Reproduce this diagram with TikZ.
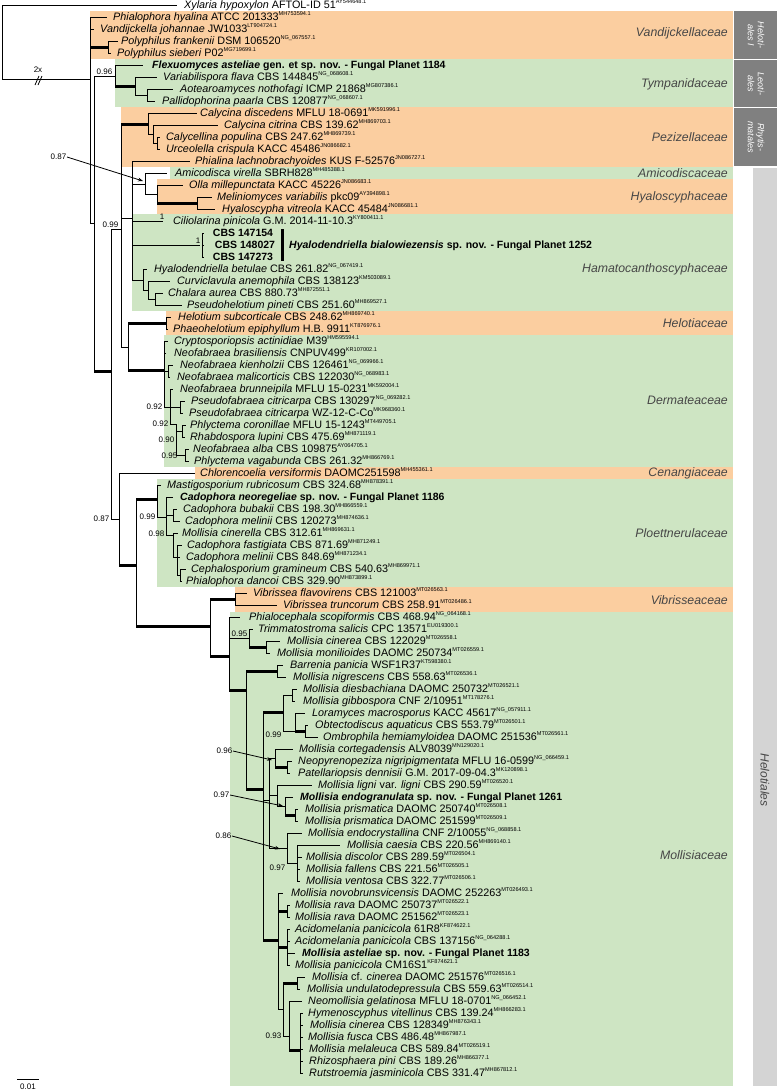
\documentclass[tikz,border=0pt]{standalone}
\usepackage{fontspec}
\setmainfont{Liberation Sans}
\usetikzlibrary{arrows.meta}

\definecolor{famorange}{RGB}{251,206,160}
\definecolor{famgreen}{RGB}{206,229,195}
\definecolor{famtext}{RGB}{70,70,70}
\definecolor{orddark}{RGB}{128,128,128}
\definecolor{ordlight}{RGB}{212,212,212}

\newcommand{\accn}[1]{\raisebox{0.85ex}{\fontsize{5.6}{6}\selectfont #1}}

\begin{document}
\begin{tikzpicture}[x=1pt, y=-1pt,
  tax/.style={anchor=base west, inner sep=0pt, yshift=-3.8pt, font=\fontsize{10.8}{12}\selectfont},
  taxb/.style={tax, font=\fontsize{10.5}{12}\selectfont\bfseries},
  br/.style={line width=0.8pt},
  thk/.style={line width=3pt},
  supp/.style={anchor=south east, inner sep=0.5pt, font=\fontsize{8}{9}\selectfont},
  fam/.style={anchor=east, inner sep=0pt, font=\fontsize{12.3}{14}\selectfont\itshape, text=famtext}]
  \useasboundingbox (0,0) rectangle (777,1090);

  % === FAMILY BOXES ===
  \fill[famorange] (90,11) rectangle (733,59);
  \fill[famgreen] (115,59) rectangle (733,107);
  \fill[famorange] (121,107) rectangle (733,167);
  \fill[famgreen] (170,167) rectangle (733,179);
  \fill[famorange] (157,179) rectangle (733,214);
  \fill[famgreen] (132,214) rectangle (733,311);
  \fill[famorange] (166,311) rectangle (733,335);
  \fill[famgreen] (164,335) rectangle (733,467);
  \fill[famorange] (195,467) rectangle (733,479);
  \fill[famgreen] (157,479) rectangle (733,587);
  \fill[famorange] (235,587) rectangle (733,612);
  \fill[famgreen] (230,612) rectangle (733,1086);

  % Orders
  \fill[orddark] (734,11) rectangle (777,59);
  \fill[orddark] (734,60) rectangle (777,107);
  \fill[orddark] (734,108) rectangle (777,166);
  \fill[ordlight] (753,168) rectangle (777,1086);
  \node[rotate=-90, align=center, text=white, font=\fontsize{9}{10}\selectfont\itshape] (oHel) at (756,35) {Heloti-\\ales I};
  \node[rotate=-90, align=center, text=white, font=\fontsize{9}{10}\selectfont\itshape] (oLeo) at (756,84) {Leoti-\\ales};
  \node[rotate=-90, align=center, text=white, font=\fontsize{9}{10}\selectfont\itshape] (oRhy) at (756,137) {Rhytis-\\matales};
  \node[rotate=-90, text=famtext, font=\fontsize{12}{14}\selectfont\itshape] (oHelo) at (765,780) {Helotiales};

  % Family names
  \node[fam] (fVan) at (728,33) {Vandijckellaceae};
  \node[fam] (fTym) at (728,84) {Tympanidaceae};
  \node[fam] (fPez) at (728,137) {Pezizellaceae};
  \node[fam] (fAmi) at (728,173) {Amicodiscaceae};
  \node[fam] (fHya) at (728,197) {Hyaloscyphaceae};
  \node[fam] (fHam) at (728,269) {Hamatocanthoscyphaceae};
  \node[fam] (fHet) at (728,323) {Helotiaceae};
  \node[fam] (fDer) at (728,400) {Dermateaceae};
  \node[fam] (fCen) at (728,473) {Cenangiaceae};
  \node[fam] (fPlo) at (728,533) {Ploettnerulaceae};
  \node[fam] (fVib) at (728,600) {Vibrisseaceae};
  \node[fam] (fMol) at (728,855) {Mollisiaceae};

  % === TREE ===
  % root and ingroup
  \draw[br] (2,5) -- (2,79);
  \draw[br] (2,5) -- (177,5);
  \draw[br] (2,79) -- (90,79);
  \node[font=\fontsize{8}{9}\selectfont] (brk) at (38,70) {2x};
  \draw[br] (35,85) -- (39,76);
  \draw[br] (38,85) -- (42,76);

  % Vandijckellaceae
  \draw[br] (90,17) -- (90,223);
  \draw[br] (90,17) -- (107,17);
  \draw[br] (90,29) -- (94,29);
  \draw[thk] (90,47) -- (108,47);
  \draw[br] (108,41) -- (108,53);
  \draw[br] (108,41) -- (118,41);
  \draw[br] (108,53) -- (111,53);
  \draw[br] (90,223) -- (94,223);

  % Tympanidaceae
  \draw[br] (94,76) -- (94,371);
  \draw[br] (94,76) -- (115,76);
  \node[supp] at (113,75) {0.96};
  \draw[br] (115,65) -- (115,86);
  \draw[br] (115,65) -- (143,65);
  \draw[thk] (115,86) -- (135,86);
  \draw[br] (135,77) -- (135,95);
  \draw[br] (135,77) -- (157,77);
  \draw[br] (135,95) -- (147,95);
  \draw[br] (147,89) -- (147,101);
  \draw[br] (147,89) -- (173,89);
  \draw[br] (147,101) -- (155,101);

  % backbone
  \draw[thk] (94,371) -- (111,371);
  \draw[br] (111,229) -- (111,519);
  \draw[br] (111,229) -- (121,229);
  \node[supp] at (119,228) {0.99};
  \draw[br] (121,124) -- (121,347);

  % Pezizellaceae
  \draw[thk] (121,124) -- (148,124);
  \draw[br] (148,113) -- (148,134);
  \draw[br] (148,113) -- (197,113);
  \draw[br] (148,134) -- (153,134);
  \draw[br] (153,125) -- (153,143);
  \draw[br] (153,125) -- (218,125);
  \draw[br] (153,143) -- (157,143);
  \draw[br] (157,137) -- (157,149);
  \draw[br] (157,137) -- (160,137);
  \draw[br] (157,149) -- (160,149);

  % Phialina, Amicodisca, Hyaloscyphaceae, Hamatocanthoscyphaceae
  \draw[br] (121,218) -- (132,218);
  \draw[br] (132,161) -- (132,280);
  \draw[br] (132,161) -- (190,161);
  \draw[br] (132,184) -- (145,184);
  \draw[br] (145,173) -- (145,194);
  \draw[br] (145,173) -- (167,173);
  \draw[br] (145,194) -- (157,194);
  \draw[br] (157,185) -- (157,203);
  \draw[br] (157,185) -- (183,185);
  \draw[thk] (157,203) -- (197,203);
  \draw[br] (197,197) -- (197,209);
  \draw[br] (197,197) -- (212,197);
  \draw[br] (197,209) -- (215,209);
  \node[font=\fontsize{8}{9}\selectfont, anchor=east, inner sep=0.5pt] (s087a) at (67,157) {0.87};
  \draw[-{Stealth[length=5pt]}, line width=0.8pt] (s087a.east) -- (143,181);
  \draw[br] (132,221) -- (163,221);
  \node[supp] at (165,220) {1};
  \draw[br] (132,245) -- (200,245);
  \node[supp] at (201,244) {1};
  \draw[line width=0.4pt] (202,233) -- (202,257);
  \foreach \yy in {233,245,257} \draw[line width=0.4pt] (202,\yy) -- (204,\yy);
  \draw[line width=3pt] (282,229) -- (282,261);
  \draw[br] (132,280) -- (143,280);
  \draw[br] (143,269) -- (143,290);
  \draw[br] (143,269) -- (147,269);
  \draw[br] (143,290) -- (148,290);
  \draw[br] (148,281) -- (148,299);
  \draw[br] (148,281) -- (170,281);
  \draw[br] (148,299) -- (155,299);
  \draw[br] (155,293) -- (155,305);
  \draw[br] (155,293) -- (163,293);
  \draw[br] (155,305) -- (182,305);

  % Helotiaceae, Dermateaceae
  \draw[br] (121,347) -- (128,347);
  \draw[br] (128,323) -- (128,370);
  \draw[thk] (128,323) -- (166,323);
  \draw[br] (166,317) -- (166,329);
  \draw[br] (166,317) -- (171,317);
  \draw[br] (166,329) -- (168,329);
  \draw[thk] (128,370) -- (164,370);
  \draw[br] (164,341) -- (164,407);
  \draw[br] (164,341) -- (168,341);
  \draw[br] (164,353) -- (166,353);
  \draw[br] (164,371) -- (168,371);
  \draw[br] (168,365) -- (168,377);
  \draw[br] (168,365) -- (173,365);
  \draw[br] (168,377) -- (170,377);
  \draw[br] (164,407) -- (170,407);
  \node[supp, anchor=east] at (163,407) {0.92};
  \draw[br] (170,389) -- (170,424);
  \draw[br] (170,389) -- (173,389);
  \draw[br] (170,407) -- (180,407);
  \draw[br] (180,401) -- (180,413);
  \draw[br] (180,401) -- (185,401);
  \draw[br] (180,413) -- (183,413);
  \draw[br] (170,424) -- (176,424);
  \node[supp, anchor=east] at (169,424) {0.92};
  \draw[br] (176,424) -- (176,455);
  \draw[br] (176,431) -- (182,431);
  \draw[br] (182,425) -- (182,437);
  \draw[br] (182,425) -- (186,425);
  \draw[br] (182,437) -- (185,437);
  \node[supp, anchor=east] at (175,440) {0.90};
  \draw[br] (176,455) -- (185,455);
  \node[supp, anchor=east] at (178,456) {0.95};
  \draw[br] (185,449) -- (185,461);
  \draw[br] (185,449) -- (189,449);
  \draw[br] (185,461) -- (189,461);

  % Cenangiaceae, Ploettnerulaceae
  \draw[br] (111,519) -- (119,519);
  \node[supp, anchor=east] at (110,519) {0.87};
  \draw[br] (119,473) -- (119,565);
  \draw[br] (119,473) -- (195,473);
  \draw[thk] (119,565) -- (136,565);
  \draw[br] (136,499) -- (136,626);
  \draw[thk] (136,499) -- (157,499);
  \draw[br] (157,485) -- (157,517);
  \draw[br] (157,485) -- (161,485);
  \draw[br] (157,517) -- (166,517);
  \node[supp, anchor=east] at (156,517) {0.99};
  \draw[br] (166,497) -- (166,535);
  \draw[br] (166,497) -- (173,497);
  \draw[br] (166,515) -- (173,515);
  \draw[br] (173,509) -- (173,521);
  \draw[br] (173,509) -- (177,509);
  \draw[br] (173,521) -- (180,521);
  \draw[br] (166,535) -- (173,535);
  \node[supp, anchor=east] at (165,534) {0.98};
  \draw[br] (173,533) -- (173,557);
  \draw[br] (173,533) -- (178,533);
  \draw[br] (173,557) -- (177,557);
  \draw[br] (177,545) -- (177,575);
  \draw[br] (177,545) -- (182,545);
  \draw[br] (177,557) -- (180,557);
  \draw[br] (177,575) -- (180,575);
  \draw[br] (180,569) -- (180,581);
  \draw[br] (180,569) -- (186,569);
  \draw[br] (180,581) -- (182,581);

  % Vibrisseaceae, Mollisiaceae
  \draw[thk] (136,626) -- (210,626);
  \draw[br] (210,599) -- (210,656);
  \draw[thk] (210,599) -- (235,599);
  \draw[br] (235,593) -- (235,605);
  \draw[br] (235,593) -- (247,593);
  \draw[br] (235,605) -- (277,605);
  \draw[thk] (210,656) -- (229,656);
  \draw[br] (229,617) -- (229,690);
  \draw[br] (229,617) -- (240,617);
  \draw[br] (229,638) -- (249,638);
  \node[supp] at (248,637) {0.95};
  \draw[br] (249,629) -- (249,647);
  \draw[br] (249,629) -- (253,629);
  \draw[thk] (249,647) -- (266,647);
  \draw[br] (266,641) -- (266,653);
  \draw[br] (266,641) -- (280,641);
  \draw[br] (266,653) -- (270,653);
  \draw[thk] (229,690) -- (246,690);
  \draw[br] (246,671) -- (246,789);
  \draw[thk] (246,671) -- (277,671);
  \draw[br] (277,665) -- (277,677);
  \draw[br] (277,665) -- (283,665);
  \draw[br] (277,677) -- (286,677);
  \draw[thk] (246,789) -- (263,789);
  \draw[br] (263,712) -- (263,940);
  \draw[thk] (263,712) -- (283,712);
  \draw[br] (283,695) -- (283,731);
  \draw[br] (283,695) -- (292,695);
  \draw[br] (292,689) -- (292,701);
  \draw[br] (292,689) -- (297,689);
  \draw[br] (292,701) -- (295,701);
  \draw[br] (283,731) -- (295,731);
  \node[supp, anchor=east] at (282,735) {0.99};
  \draw[br] (295,713) -- (295,731);
  \draw[br] (295,713) -- (305,713);
  \draw[thk] (295,731) -- (305,731);
  \draw[br] (305,725) -- (305,737);
  \draw[br] (305,725) -- (308,725);
  \draw[br] (305,737) -- (318,737);
  \draw[br] (263,800) -- (269,800);
  \draw[br] (269,758) -- (269,848);
  \draw[br] (269,758) -- (275,758);
  \draw[br] (275,749) -- (275,767);
  \draw[br] (275,749) -- (293,749);
  \draw[thk] (275,767) -- (287,767);
  \draw[br] (287,761) -- (287,773);
  \draw[br] (287,761) -- (292,761);
  \draw[br] (287,773) -- (290,773);
  \node[font=\fontsize{8}{9}\selectfont, anchor=east, inner sep=0.5pt] (s096) at (233,751) {0.96};
  \draw[-{Stealth[length=5pt]}, line width=0.8pt] (s096.east) -- (272,760);
  \draw[br] (269,795) -- (277,795);
  \draw[br] (277,785) -- (277,806);
  \draw[br] (277,785) -- (312,785);
  \draw[br] (277,806) -- (285,806);
  \draw[br] (285,797) -- (285,815);
  \draw[br] (285,797) -- (293,797);
  \draw[thk] (285,815) -- (295,815);
  \draw[br] (295,809) -- (295,821);
  \draw[br] (295,809) -- (298,809);
  \draw[br] (295,821) -- (298,821);
  \node[font=\fontsize{8}{9}\selectfont, anchor=east, inner sep=0.5pt] (s097a) at (230,795) {0.97};
  \draw[-{Stealth[length=5pt]}, line width=0.8pt] (s097a.east) -- (283,806);
  \draw[br] (269,848) -- (287,848);
  \node[font=\fontsize{8}{9}\selectfont, anchor=east, inner sep=0.5pt] (s086) at (232,836) {0.86};
  \draw[-{Stealth[length=5pt]}, line width=0.8pt] (s086.east) -- (280,849);
  \draw[br] (287,833) -- (287,863);
  \draw[br] (287,833) -- (302,833);
  \draw[br] (287,863) -- (297,863);
  \node[supp, anchor=east] at (286,868) {0.97};
  \draw[br] (297,845) -- (297,881);
  \draw[br] (297,845) -- (340,845);
  \draw[br] (297,857) -- (302,857);
  \draw[br] (297,869) -- (300,869);
  \draw[br] (297,881) -- (300,881);
  \draw[thk] (263,940) -- (278,940);
  \draw[br] (278,893) -- (278,1009);
  \draw[br] (278,893) -- (283,893);
  \draw[thk] (278,911) -- (287,911);
  \draw[br] (287,905) -- (287,917);
  \draw[br] (287,905) -- (290,905);
  \draw[br] (287,917) -- (290,917);
  \draw[thk] (278,947) -- (287,947);
  \draw[br] (287,929) -- (287,965);
  \foreach \yy in {929,941,965} \draw[br] (287,\yy) -- (290,\yy);
  \draw[br] (287,953) -- (295,953);
  \draw[br] (278,1009) -- (283,1009);
  \draw[br] (283,983) -- (283,1036);
  \draw[thk] (283,983) -- (297,983);
  \draw[br] (297,977) -- (297,989);
  \draw[br] (297,977) -- (305,977);
  \draw[br] (297,989) -- (300,989);
  \draw[br] (283,1036) -- (289,1036);
  \node[supp, anchor=east] at (282,1036) {0.93};
  \draw[br] (289,1001) -- (289,1050);
  \draw[br] (289,1001) -- (302,1001);
  \draw[thk] (289,1050) -- (300,1050);
  \draw[br] (300,1013) -- (300,1073);
  \foreach \yy in {1013,1025,1037,1049,1061,1073} \draw[br] (300,\yy) -- (303,\yy);

  % scale bar
  \draw[br] (17,1079) -- (39,1079);
  \node[font=\fontsize{8}{9}\selectfont] (scl) at (28,1087) {0.01};

  % === TAXA ===
  \node[tax] (t01) at (184,5) {\textit{Xylaria hypoxylon} AFTOL-ID 51\accn{AY544648.1}};
  \node[tax] (t02) at (113,17) {\textit{Phialophora hyalina} ATCC 201333\accn{MH753594.1}};
  \node[tax] (t03) at (100,29) {\textit{Vandijckella johannae} JW1033\accn{LT904724.1}};
  \node[tax] (t04) at (121,41) {\textit{Polyphilus frankenii} DSM 106520\accn{NG\_067557.1}};
  \node[tax] (t05) at (117,53) {\textit{Polyphilus sieberi} P02\accn{MG719699.1}};
  \node[taxb] (t06) at (152,65) {\textit{Flexuomyces asteliae} gen. et sp. nov. - Fungal Planet 1184};
  \node[tax] (t07) at (163,77) {\textit{Variabilispora flava} CBS 144845\accn{NG\_068608.1}};
  \node[tax] (t08) at (180,89) {\textit{Aotearoamyces nothofagi} ICMP 21868\accn{MG807386.1}};
  \node[tax] (t09) at (162,101) {\textit{Pallidophorina paarla} CBS 120877\accn{NG\_068607.1}};
  \node[tax] (t10) at (200,113) {\textit{Calycina discedens} MFLU 18-0691\accn{MK591996.1}};
  \node[tax] (t11) at (224,125) {\textit{Calycina citrina} CBS 139.62\accn{MH869703.1}};
  \node[tax] (t12) at (166,137) {\textit{Calycellina populina} CBS 247.62\accn{MH869739.1}};
  \node[tax] (t13) at (166,149) {\textit{Urceolella crispula} KACC 45486\accn{JN086682.1}};
  \node[tax] (t14) at (195,161) {\textit{Phialina lachnobrachyoides} KUS F-52576\accn{JN086727.1}};
  \node[tax] (t15) at (175,173) {\textit{Amicodisca virella} SBRH828\accn{MH485388.1}};
  \node[tax] (t16) at (189,185) {\textit{Olla millepunctata} KACC 45226\accn{JN086683.1}};
  \node[tax] (t17) at (217,197) {\textit{Meliniomyces variabilis} pkc09\accn{AY394898.1}};
  \node[tax] (t18) at (222,209) {\textit{Hyaloscypha vitreola} KACC 45484\accn{JN086681.1}};
  \node[tax] (t19) at (173,221) {\textit{Ciliolarina pinicola} G.M. 2014-11-10.3\accn{KY800411.1}};
  \node[taxb, anchor=base] (t20) at (243,233) {CBS 147154};
  \node[taxb, anchor=base] (t21) at (245,245) {CBS 148027};
  \node[taxb, anchor=base] (t22) at (243,257) {CBS 147273};
  \node[taxb] (hbia) at (289,245) {\textit{Hyalodendriella bialowiezensis} sp. nov. - Fungal Planet 1252};
  \node[tax] (t23) at (154,269) {\textit{Hyalodendriella betulae} CBS 261.82\accn{NG\_067419.1}};
  \node[tax] (t24) at (177,281) {\textit{Curviclavula anemophila} CBS 138123\accn{KM503089.1}};
  \node[tax] (t25) at (168,293) {\textit{Chalara aurea} CBS 880.73\accn{MH872551.1}};
  \node[tax] (t26) at (187,305) {\textit{Pseudohelotium pineti} CBS 251.60\accn{MH869527.1}};
  \node[tax] (t27) at (178,317) {\textit{Helotium subcorticale} CBS 248.62\accn{MH869740.1}};
  \node[tax] (t28) at (173,329) {\textit{Phaeohelotium epiphyllum} H.B. 9911\accn{KT876976.1}};
  \node[tax] (t29) at (174,341) {\textit{Cryptosporiopsis actinidiae} M39\accn{HM595594.1}};
  \node[tax] (t30) at (174,353) {\textit{Neofabraea brasiliensis} CNPUV499\accn{KR107002.1}};
  \node[tax] (t31) at (180,365) {\textit{Neofabraea kienholzii} CBS 126461\accn{NG\_069966.1}};
  \node[tax] (t32) at (177,377) {\textit{Neofabraea malicorticis} CBS 122030\accn{NG\_068983.1}};
  \node[tax] (t33) at (180,389) {\textit{Neofabraea brunneipila} MFLU 15-0231\accn{MK592004.1}};
  \node[tax] (t34) at (191,401) {\textit{Pseudofabraea citricarpa} CBS 130297\accn{NG\_069282.1}};
  \node[tax] (t35) at (189,413) {\textit{Pseudofabraea citricarpa} WZ-12-C-Co\accn{MK968360.1}};
  \node[tax] (t36) at (190,425) {\textit{Phlyctema coronillae} MFLU 15-1243\accn{MT449705.1}};
  \node[tax] (t37) at (190,437) {\textit{Rhabdospora lupini} CBS 475.69\accn{MH871119.1}};
  \node[tax] (t38) at (193,449) {\textit{Neofabraea alba} CBS 109875\accn{AY064705.1}};
  \node[tax] (t39) at (194,461) {\textit{Phlyctema vagabunda} CBS 261.32\accn{MH866769.1}};
  \node[tax] (t40) at (200,473) {\textit{Chlorencoelia versiformis} DAOMC251598\accn{MH455361.1}};
  \node[tax] (t41) at (167,485) {\textit{Mastigosporium rubricosum} CBS 324.68\accn{MH878391.1}};
  \node[taxb] (t42) at (180,497) {\textit{Cadophora neoregeliae} sp. nov. - Fungal Planet 1186};
  \node[tax] (t43) at (183,509) {\textit{Cadophora bubakii} CBS 198.30\accn{MH866559.1}};
  \node[tax] (t44) at (185,521) {\textit{Cadophora melinii} CBS 120273\accn{MH874636.1}};
  \node[tax] (t45) at (182,533) {\textit{Mollisia cinerella} CBS 312.61\accn{MH869631.1}};
  \node[tax] (t46) at (187,545) {\textit{Cadophora fastigiata} CBS 871.69\accn{MH871249.1}};
  \node[tax] (t47) at (186,557) {\textit{Cadophora melinii} CBS 848.69\accn{MH871234.1}};
  \node[tax] (t48) at (191,569) {\textit{Cephalosporium gramineum} CBS 540.63\accn{MH869971.1}};
  \node[tax] (t49) at (186,581) {\textit{Phialophora dancoi} CBS 329.90\accn{MH873899.1}};
  \node[tax] (t50) at (253,593) {\textit{Vibrissea flavovirens} CBS 121003\accn{MT026563.1}};
  \node[tax] (t51) at (283,605) {\textit{Vibrissea truncorum} CBS 258.91\accn{MT026486.1}};
  \node[tax] (t52) at (249,617) {\textit{Phialocephala scopiformis} CBS 468.94\accn{NG\_064168.1}};
  \node[tax] (t53) at (258,629) {\textit{Trimmatostroma salicis} CPC 13571\accn{EU019300.1}};
  \node[tax] (t54) at (287,641) {\textit{Mollisia cinerea} CBS 122029\accn{MT026558.1}};
  \node[tax] (t55) at (277,653) {\textit{Mollisia monilioides} DAOMC 250734\accn{MT026559.1}};
  \node[tax] (t56) at (290,665) {\textit{Barrenia panicia} WSF1R37\accn{KT598380.1}};
  \node[tax] (t57) at (293,677) {\textit{Mollisia nigrescens} CBS 558.63\accn{MT026536.1}};
  \node[tax] (t58) at (303,689) {\textit{Mollisia diesbachiana} DAOMC 250732\accn{MT026521.1}};
  \node[tax] (t59) at (303,701) {\textit{Mollisia gibbospora} CNF 2/10951\accn{MT178276.1}};
  \node[tax] (t60) at (312,713) {\textit{Loramyces macrosporus} KACC 45617\accn{NG\_057911.1}};
  \node[tax] (t61) at (315,725) {\textit{Obtectodiscus aquaticus} CBS 553.79\accn{MT026501.1}};
  \node[tax] (t62) at (323,737) {\textit{Ombrophila hemiamyloidea} DAOMC 251536\accn{MT026561.1}};
  \node[tax] (t63) at (299,749) {\textit{Mollisia cortegadensis} ALV8039\accn{MN129020.1}};
  \node[tax] (t64) at (298,761) {\textit{Neopyrenopeziza nigripigmentata} MFLU 16-0599\accn{NG\_066459.1}};
  \node[tax] (t65) at (298,773) {\textit{Patellariopsis dennisii} G.M. 2017-09-04.3\accn{MK120898.1}};
  \node[tax] (t66) at (318,785) {\textit{Mollisia ligni} var. \textit{ligni} CBS 290.59\accn{MT026520.1}};
  \node[taxb] (t67) at (300,797) {\textit{Mollisia endogranulata} sp. nov. - Fungal Planet 1261};
  \node[tax] (t68) at (305,809) {\textit{Mollisia prismatica} DAOMC 250740\accn{MT026508.1}};
  \node[tax] (t69) at (305,821) {\textit{Mollisia prismatica} DAOMC 251599\accn{MT026509.1}};
  \node[tax] (t70) at (308,833) {\textit{Mollisia endocrystallina} CNF 2/10055\accn{NG\_068858.1}};
  \node[tax] (t71) at (347,845) {\textit{Mollisia caesia} CBS 220.56\accn{MH869140.1}};
  \node[tax] (t72) at (306,857) {\textit{Mollisia discolor} CBS 289.59\accn{MT026504.1}};
  \node[tax] (t73) at (306,869) {\textit{Mollisia fallens} CBS 221.56\accn{MT026505.1}};
  \node[tax] (t74) at (306,881) {\textit{Mollisia ventosa} CBS 322.77\accn{MT026506.1}};
  \node[tax] (t75) at (291,893) {\textit{Mollisia novobrunsvicensis} DAOMC 252263\accn{MT026493.1}};
  \node[tax] (t76) at (295,905) {\textit{Mollisia rava} DAOMC 250737\accn{MT026522.1}};
  \node[tax] (t77) at (295,917) {\textit{Mollisia rava} DAOMC 251562\accn{MT026523.1}};
  \node[tax] (t78) at (295,929) {\textit{Acidomelania panicicola} 61R8\accn{KF874622.1}};
  \node[tax] (t79) at (295,941) {\textit{Acidomelania panicicola} CBS 137156\accn{NG\_064288.1}};
  \node[taxb] (t80) at (302,953) {\textit{Mollisia asteliae} sp. nov. - Fungal Planet 1183};
  \node[tax] (t81) at (295,965) {\textit{Mollisia panicicola} CM16S1\accn{KF874621.1}};
  \node[tax] (t82) at (312,977) {\textit{Mollisia} cf. \textit{cinerea} DAOMC 251576\accn{MT026516.1}};
  \node[tax] (t83) at (307,989) {\textit{Mollisia undulatodepressula} CBS 559.63\accn{MT026514.1}};
  \node[tax] (t84) at (308,1001) {\textit{Neomollisia gelatinosa} MFLU 18-0701\accn{NG\_066452.1}};
  \node[tax] (t85) at (308,1013) {\textit{Hymenoscyphus vitellinus} CBS 139.24\accn{MH866283.1}};
  \node[tax] (t86) at (310,1025) {\textit{Mollisia cinerea} CBS 128349\accn{MH876343.1}};
  \node[tax] (t87) at (308,1037) {\textit{Mollisia fusca} CBS 486.48\accn{MH867987.1}};
  \node[tax] (t88) at (309,1049) {\textit{Mollisia melaleuca} CBS 589.84\accn{MT026519.1}};
  \node[tax] (t89) at (309,1061) {\textit{Rhizosphaera pini} CBS 189.26\accn{MH866377.1}};
  \node[tax] (t90) at (309,1073) {\textit{Rutstroemia jasminicola} CBS 331.47\accn{MH867812.1}};
\end{tikzpicture}
\end{document}
